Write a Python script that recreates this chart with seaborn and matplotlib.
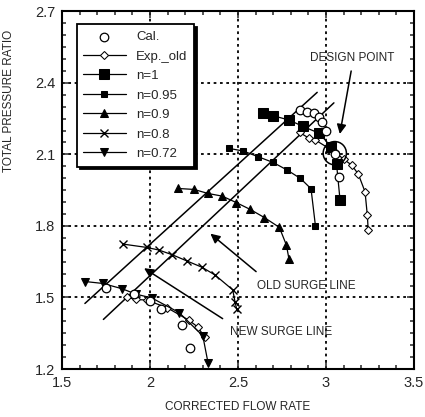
import numpy as np
import pandas as pd
import matplotlib
matplotlib.use("Agg")
import matplotlib.pyplot as plt
from matplotlib.ticker import MultipleLocator
import seaborn as sns

# values
cal_lo_x = [1.75, 1.91, 2.00, 2.06, 2.18, 2.23]
cal_lo_y = [1.540, 1.513, 1.484, 1.450, 1.384, 1.290]
cal_hi_x = [2.85, 2.89, 2.93, 2.96, 2.98, 3.00, 3.05, 3.076]
cal_hi_y = [2.286, 2.279, 2.272, 2.258, 2.237, 2.198, 2.10, 2.006]

exp_lo_x = [1.87, 1.92, 1.98, 2.095, 2.22, 2.27, 2.31]
exp_lo_y = [1.500, 1.492, 1.489, 1.458, 1.405, 1.377, 1.335]
exp_hi_x = [2.85, 2.905, 2.94, 3.05, 3.10, 3.146, 3.184, 3.222, 3.235, 3.24]
exp_hi_y = [2.192, 2.167, 2.160, 2.11, 2.08, 2.055, 2.017, 1.943, 1.845, 1.783]

n1_x = [2.64, 2.70, 2.79, 2.87, 2.96, 3.03, 3.06, 3.08]
n1_y = [2.272, 2.262, 2.244, 2.217, 2.189, 2.132, 2.06, 1.908]

n095_x = [2.45, 2.53, 2.615, 2.70, 2.78, 2.855, 2.915, 2.94]
n095_y = [2.125, 2.114, 2.090, 2.066, 2.034, 1.999, 1.956, 1.801]

n09_x = [2.16, 2.25, 2.33, 2.41, 2.49, 2.57, 2.65, 2.735, 2.775, 2.79]
n09_y = [1.957, 1.953, 1.936, 1.925, 1.898, 1.869, 1.835, 1.794, 1.720, 1.660]

n08_x = [1.845, 1.98, 2.05, 2.127, 2.21, 2.295, 2.37, 2.47, 2.483, 2.493]
n08_y = [1.724, 1.710, 1.699, 1.679, 1.653, 1.627, 1.594, 1.532, 1.482, 1.450]

n072_x = [1.63, 1.73, 1.84, 1.92, 2.01, 2.165, 2.30, 2.33]
n072_y = [1.567, 1.559, 1.537, 1.514, 1.498, 1.437, 1.339, 1.225]

new_surge_x = [1.63, 2.95]
new_surge_y = [1.475, 2.36]
old_surge_x = [1.735, 3.045]
old_surge_y = [1.408, 2.316]

design_x = [3.05]
design_y = [2.105]

sns.set_style("ticks")
plt.rcParams["font.family"] = ["Liberation Sans", "DejaVu Sans"]

fig = plt.figure(figsize=(4.25, 4.17), dpi=100)
ax = fig.add_axes([0.146, 0.115, 0.828, 0.858])

# surge lines
sns.lineplot(x=new_surge_x, y=new_surge_y, color="black", lw=1.1, ax=ax, label="_nolegend_")
sns.lineplot(x=old_surge_x, y=old_surge_y, color="black", lw=1.1, ax=ax, label="_nolegend_")

kw = dict(color="black", lw=0.9, ax=ax, sort=False, estimator=None)
sns.scatterplot(x=cal_lo_x + cal_hi_x, y=cal_lo_y + cal_hi_y, marker="o", s=38,
                facecolor="white", edgecolor="black", linewidth=0.9, ax=ax, label="Cal.", zorder=4)
sns.lineplot(x=exp_lo_x, y=exp_lo_y, marker="D", markersize=4, mfc="white", mec="black",
             label="_nolegend_", **kw)
sns.lineplot(x=exp_hi_x, y=exp_hi_y, marker="D", markersize=4, mfc="white", mec="black",
             label="Exp._old", **kw)
sns.lineplot(x=n1_x, y=n1_y, marker="s", markersize=7, mfc="black", mec="black", label="n=1", **kw)
sns.lineplot(x=n095_x, y=n095_y, marker="s", markersize=4.5, mfc="black", mec="black", label="n=0.95", **kw)
sns.lineplot(x=n09_x, y=n09_y, marker="^", markersize=6, mfc="black", mec="black", label="n=0.9", **kw)
sns.lineplot(x=n08_x, y=n08_y, marker="x", markersize=6, mec="black", mew=1, label="n=0.8", **kw)
sns.lineplot(x=n072_x, y=n072_y, marker="v", markersize=6, mfc="black", mec="black", label="n=0.72", **kw)

# design point circle
sns.scatterplot(x=design_x, y=design_y, s=280, facecolor="none", edgecolor="black",
                linewidth=1.1, ax=ax, label="_nolegend_", zorder=5)

ax.set_xlim(1.5, 3.5)
ax.set_ylim(1.2, 2.7)
ax.xaxis.set_major_locator(MultipleLocator(0.5))
ax.xaxis.set_minor_locator(MultipleLocator(0.1))
ax.yaxis.set_major_locator(MultipleLocator(0.3))
ax.yaxis.set_minor_locator(MultipleLocator(0.05))
ax.set_xticks([1.5, 2, 2.5, 3, 3.5])
ax.set_xticklabels(["1.5", "2", "2.5", "3", "3.5"])
ax.tick_params(which="both", direction="in", top=True, right=True, labelsize=10.5, width=1.1)
ax.tick_params(which="major", length=5, pad=5)
ax.tick_params(which="minor", length=3)
for s in ax.spines.values():
    s.set_linewidth(1.5)
    s.set_color("black")

for gx in [2, 2.5, 3]:
    ax.axvline(gx, color="black", ls=(0, (1.5, 2)), lw=1.3, zorder=0)
for gy in [1.5, 1.8, 2.1, 2.4]:
    ax.axhline(gy, color="black", ls=(0, (1.5, 2)), lw=1.3, zorder=0)

ax.set_xlabel("CORRECTED FLOW RATE", fontsize=8.5, labelpad=8)
ax.set_ylabel("TOTAL PRESSURE RATIO", fontsize=8.5)
ax.yaxis.set_label_coords(-0.135, 0.75)

arrow = dict(arrowstyle="-|>", color="black", lw=1.1, mutation_scale=14)
ax.annotate("", xy=(2.331, 1.775), xytext=(2.615, 1.601), arrowprops=arrow)
ax.annotate("", xy=(1.953, 1.629), xytext=(2.426, 1.405), arrowprops=arrow)
ax.annotate("", xy=(3.076, 2.174), xytext=(3.146, 2.461), arrowprops=arrow)
ax.text(2.61, 1.55, "OLD SURGE LINE", fontsize=8.5, ha="left", va="center")
ax.text(2.455, 1.356, "NEW SURGE LINE", fontsize=8.5, ha="left", va="center")
ax.text(3.15, 2.503, "DESIGN POINT", fontsize=8.5, ha="center", va="center")

handles, labels = ax.get_legend_handles_labels()
order = ["Cal.", "Exp._old", "n=1", "n=0.95", "n=0.9", "n=0.8", "n=0.72"]
hmap = dict(zip(labels, handles))
leg = ax.legend([hmap[k] for k in order], order, loc="upper left",
                bbox_to_anchor=(0.023, 0.982), fontsize=9.5, frameon=True, fancybox=False,
                edgecolor="black", framealpha=1, handlelength=3.2, labelspacing=0.55,
                borderpad=0.5, shadow={"color": "black", "alpha": 1})
leg.get_frame().set_linewidth(1.3)

fig.savefig("out.png", dpi=100)
